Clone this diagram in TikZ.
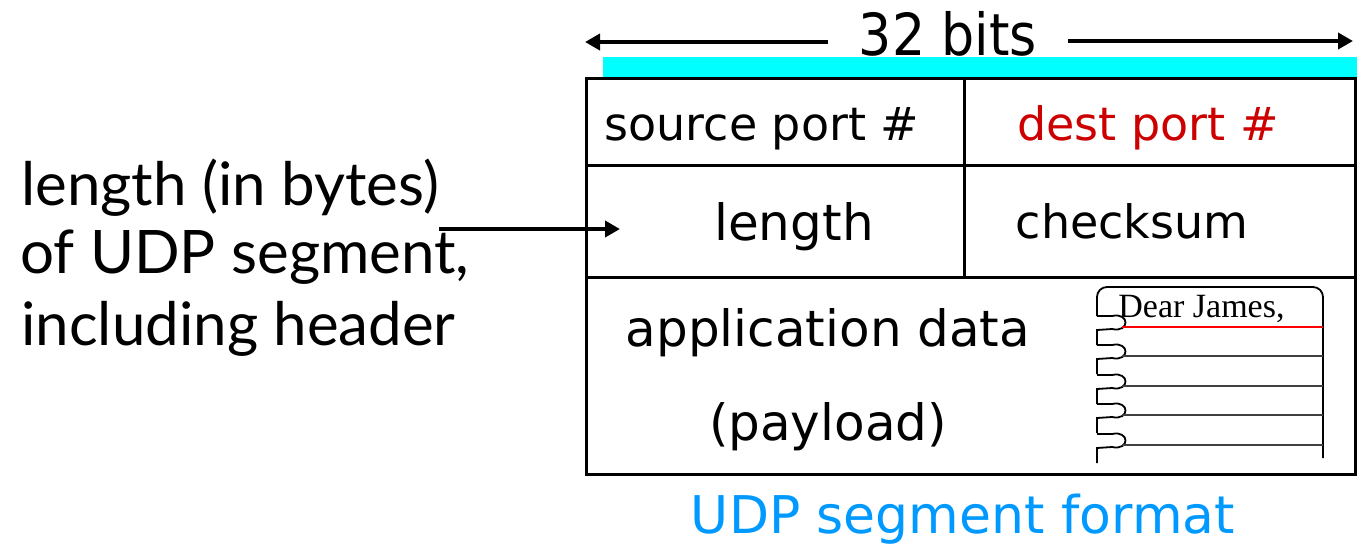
\documentclass[tikz,border=0pt]{standalone}
\usepackage{fontspec}
\setmainfont{DejaVu Sans}
\newfontfamily\condfont{DejaVu Sans Condensed}
\newfontfamily\notefont{Lato}
\newfontfamily\handfont{Liberation Serif}
\usetikzlibrary{arrows.meta}
\definecolor{destred}{HTML}{CC0000}
\definecolor{udpblue}{HTML}{0099FF}
\definecolor{barcyan}{HTML}{00FFFF}

\begin{document}
\begin{tikzpicture}[x=0.5pt, y=-0.5pt,
    every node/.style={inner sep=0pt, anchor=base},
    field/.style={font=\fontsize{23}{27}\selectfont},
    bigfield/.style={font=\fontsize{25}{30}\selectfont},
    side/.style={font=\notefont\fontsize{30}{36}\selectfont, anchor=base west},
    grid/.style={line width=1.5pt},
    pointer/.style={line width=2pt, -{Triangle[length=7.5pt,width=8pt]}}]
  \useasboundingbox (0,0) rectangle (1357,543);

  % width bar and the segment box
  \fill[barcyan] (603,57) rectangle (1357,77);
  \draw[grid] (586,78) rectangle (1355,474);
  \draw[grid] (586,165) -- (1355,165);
  \draw[grid] (586,277) -- (1355,277);
  \draw[grid] (964,78) -- (964,277);

  \node[font=\condfont\fontsize{29}{34}\selectfont, inner xsep=15pt] (bits) at (948,55) {32 bits};
  \coordinate (bitsL) at (585,42);
  \coordinate (bitsR) at (1353,41);
  \draw[pointer] (bits.west |- bitsL) -- (bitsL);
  \draw[pointer] (bits.east |- bitsR) -- (bitsR);

  \node[field] (src) at (762,140) {source port \#};
  \node[field, text=destred] (dst) at (1148,140) {dest port \#};
  \node[bigfield] (len) at (794,240) {length};
  \node[field] (chk) at (1132,238) {checksum};
  \node[bigfield] (app) at (828,346) {application data};
  \node[bigfield] (pay) at (828,440) {(payload)};

  \node[font=\fontsize{26}{31}\selectfont, text=udpblue] (caption) at (963,533) {UDP segment format};

  % the letter in the payload
  \begin{scope}[line width=0.9pt]
    \draw[rounded corners=5pt] (1097,316) -- (1097,287) -- (1323,287) -- (1323,458);
    \foreach \y in {316,345,375,404,434}
      \draw (1097,\y) -- (1112,\y) .. controls (1130,\y-4) and (1130,\y+17) .. (1112,\y+13) -- (1097,\y+14) -- (1097,\y+29);
    \draw[red] (1122,327) -- (1323,327);
    \foreach \y in {356,386,415,445}
      \draw[black!75] (1122,\y) -- (1323,\y);
  \end{scope}
  \node[font=\handfont\fontsize{17}{20}\selectfont, anchor=base west] (dear) at (1118,317) {Dear James,};

  \node[side] (lenA) at (21,205) {length (in bytes)};
  \node[side] (lenB) at (20,273) {of UDP segment,};
  \node[side] (lenC) at (21,345) {including header};
  \coordinate (lentip) at (620,229);
  \draw[pointer] (lenA.east |- lentip) -- (lentip);
\end{tikzpicture}
\end{document}
